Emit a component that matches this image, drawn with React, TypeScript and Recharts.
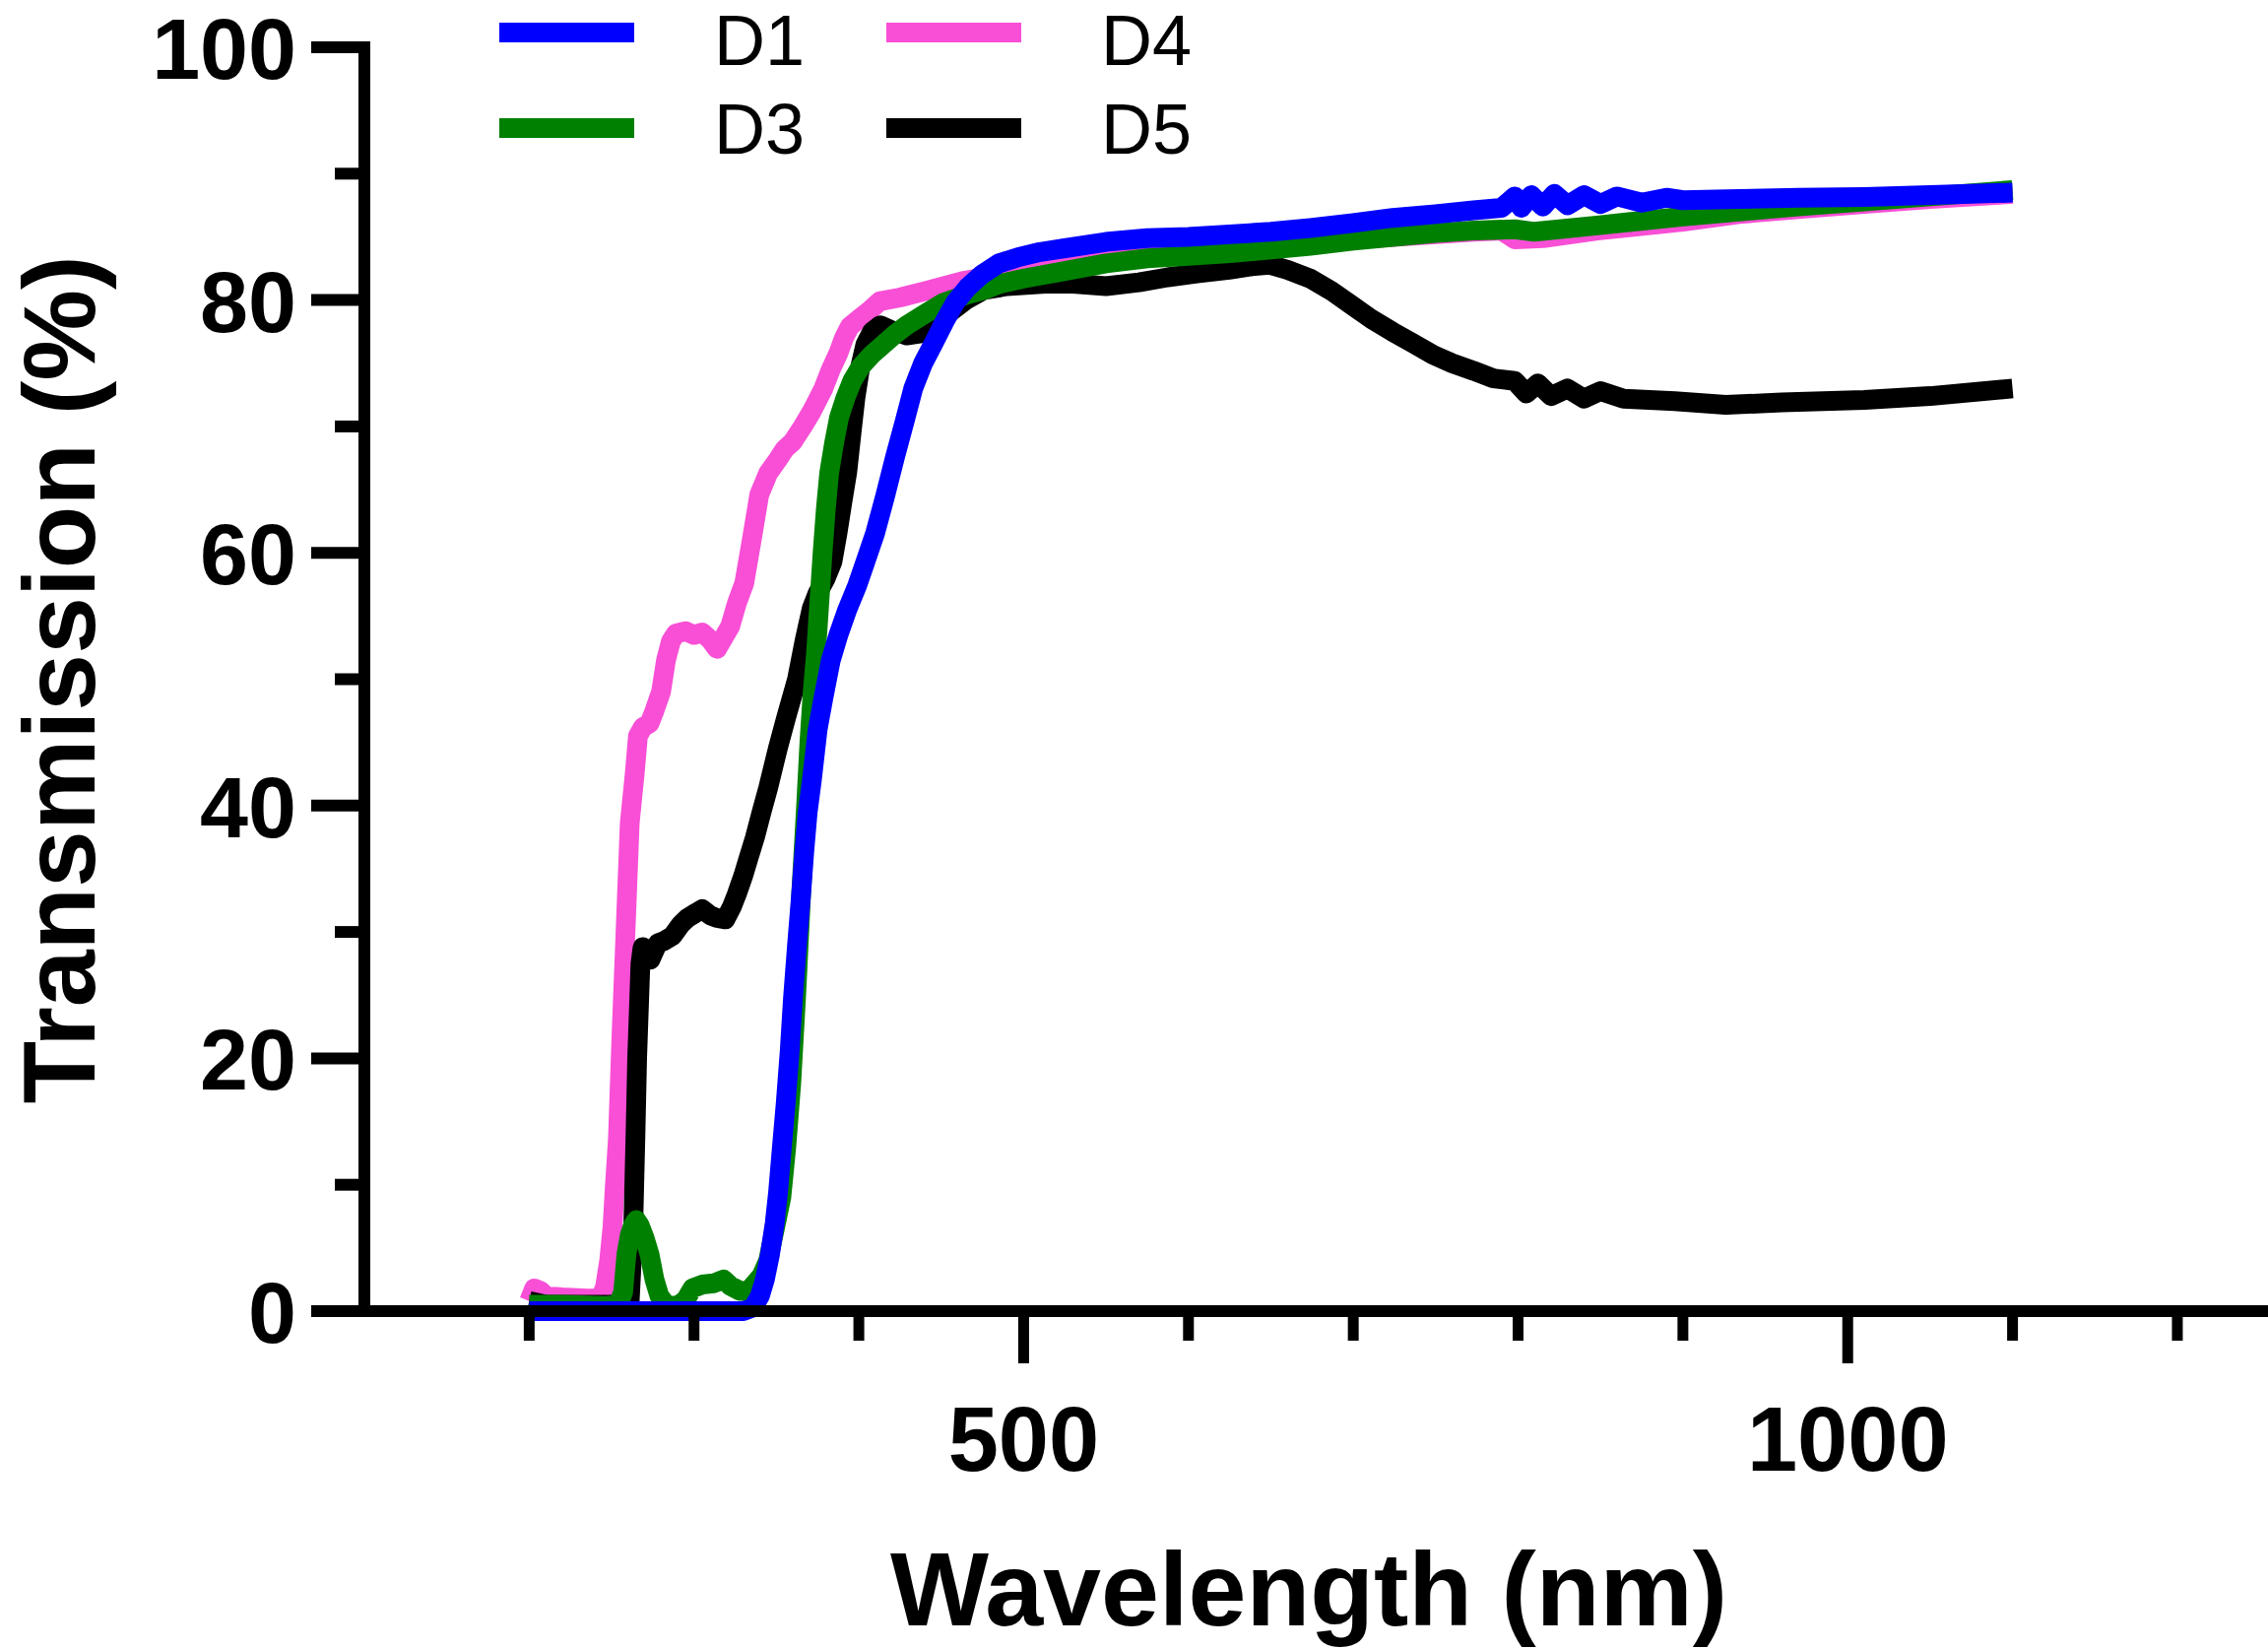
import { LineChart, Line, XAxis, YAxis, Legend } from "recharts";

// wavelength (nm) / transmission (%)
const d1Wl = [200, 250, 300, 330, 336, 340, 343, 346, 349, 351, 353, 355.6, 358, 360, 362.5, 365, 367, 369, 371.5, 375, 378.5, 383, 387.6, 393, 399, 404, 410, 416, 422, 428, 433, 439, 445, 452, 458.5, 466, 474.5, 485, 497, 510, 525, 550, 575, 600, 625, 650, 674, 700, 724, 750, 773, 790, 798, 802, 808, 815, 822, 830, 840, 850, 860, 875, 890, 900, 934, 970, 1010, 1050, 1100];
const d1T = [0, 0, 0, 0, 0.3, 1.2, 2.5, 4.4, 7, 9.4, 12.5, 16.4, 20.5, 24.7, 29, 33, 36.5, 39.5, 42, 46, 48.5, 51.5, 53.5, 55.5, 57.4, 59.3, 61.6, 64.5, 67.6, 70.5, 73, 75, 76.5, 78.3, 79.8, 81, 82, 82.9, 83.4, 83.8, 84.1, 84.6, 84.9, 85, 85.2, 85.4, 85.7, 86.1, 86.5, 86.8, 87.1, 87.3, 88.2, 87.3, 88.3, 87.4, 88.4, 87.5, 88.3, 87.6, 88.2, 87.7, 88.1, 87.9, 88, 88.1, 88.15, 88.3, 88.5];

const d3Wl = [200, 220, 245, 254, 257, 259, 261, 263, 265, 267, 270, 273, 276, 279, 283, 290, 295, 299, 305, 312, 318, 322, 328, 333, 337, 341, 345, 349, 353, 356, 359, 362, 365, 368, 370, 372, 374, 376, 378, 380, 382, 385, 388, 392, 396, 401, 408, 415, 422, 429, 440, 451.5, 465, 476, 486, 500, 525, 550, 575, 600, 625, 650, 674, 700, 724, 750, 773, 798, 810, 848, 870, 900, 934, 970, 1010, 1050, 1100];
const d3T = [0.5, 0.5, 0.4, 0.5, 1.5, 4.5, 6, 6.8, 7.2, 6.8, 5.8, 4.5, 2.5, 1.2, 0.5, 0.4, 0.9, 1.8, 2.1, 2.2, 2.5, 2, 1.6, 1.6, 2.2, 2.8, 4, 6.5, 9, 13, 18, 25, 33, 40, 45, 49, 52, 56, 60, 63.5, 66.3, 68.7, 70.7, 72.3, 73.6, 74.7, 75.7, 76.5, 77.3, 78, 78.9, 79.8, 80.4, 80.8, 81.3, 81.7, 82.3, 82.9, 83.3, 83.5, 83.7, 84, 84.3, 84.7, 85, 85.3, 85.5, 85.6, 85.4, 85.9, 86.2, 86.6, 87, 87.4, 87.8, 88.2, 88.7];

const d4Wl = [200, 203, 207, 210, 220, 235, 243, 246, 248.5, 250.5, 252, 253.8, 256, 258.5, 261, 264, 266, 269, 273, 276, 280, 283, 286, 289, 295, 300, 305, 310, 314, 318, 322, 326, 330.5, 335, 339.6, 345, 351, 355, 360, 366, 371.5, 378.5, 383, 387.6, 391, 394.5, 400, 405.9, 412.7, 425, 440, 463, 476, 500, 525, 550, 575, 600, 625, 650, 674, 700, 724, 750, 773, 790, 798, 815, 848, 870, 900, 934, 970, 1010, 1050, 1100];
const d4T = [0.8, 1.8, 1.6, 1.2, 1.1, 1, 1, 1.9, 4, 6.6, 10, 13.6, 21.9, 30.2, 38.6, 42.5, 45.5, 46.2, 46.5, 47.5, 49, 51.5, 53, 53.6, 53.8, 53.5, 53.7, 53.1, 52.4, 53.3, 54.2, 56, 57.6, 61, 64.6, 66.3, 67.4, 68.2, 68.8, 70, 71.2, 73, 74.5, 75.8, 77, 77.9, 78.5, 79.1, 79.9, 80.2, 80.7, 81.5, 81.8, 82.4, 82.8, 83.2, 83.6, 83.8, 84, 84.2, 84.5, 84.8, 85, 85.2, 85.4, 85.5, 84.8, 84.9, 85.5, 85.8, 86.2, 86.8, 87.2, 87.6, 88, 88.4];

const d5Wl = [200, 210, 230, 255, 261, 263, 264.5, 265.5, 267.5, 268.8, 271, 273.5, 278, 282, 287, 292, 296, 301, 305, 310, 314, 319, 323, 326, 330, 333, 337, 341, 345, 351, 356, 362.5, 367, 371.4, 375, 380, 384, 387, 390, 393, 396, 398, 401, 404, 408, 413, 420, 429, 440, 448, 455, 465, 476, 490, 513, 530, 550, 570, 587.5, 605, 624.7, 640, 649, 660, 674, 687, 699, 711, 723.7, 736, 748, 760, 773, 785, 798, 805, 812, 820, 830, 840, 850, 864, 895, 926, 960, 1010, 1050, 1100];
const d5T = [0.8, 0.5, 0.5, 0.5, 0.8, 6, 14, 20, 27.5, 28.8, 28.2, 27.8, 29.1, 29.3, 29.7, 30.6, 31.1, 31.5, 31.8, 31.3, 31.1, 31, 32, 33, 34.5, 35.8, 37.5, 39.5, 41.4, 44.6, 47, 50, 53, 55.6, 56.8, 58, 59.3, 61.5, 64, 66.4, 70, 72.3, 74.8, 76.5, 77.5, 78, 77.6, 77.2, 77.4, 78.2, 79, 80, 80.8, 81.1, 81.3, 81.3, 81.1, 81.4, 81.8, 82.1, 82.4, 82.7, 82.8, 82.4, 81.7, 80.7, 79.6, 78.5, 77.5, 76.6, 75.7, 75, 74.4, 73.8, 73.6, 72.6, 73.4, 72.4, 73, 72.2, 72.8, 72.2, 72, 71.7, 71.9, 72.1, 72.4, 73];

const yTicks = [0, 10, 20, 30, 40, 50, 60, 70, 80, 90, 100];
const xTicks = [200, 300, 400, 500, 600, 700, 800, 900, 1000, 1100, 1200];

const legendNames = ["D1", "D3", "D4", "D5"];
const colors: Record<string, string> = {
  D1: "#0000FF",
  D3: "#008000",
  D4: "#F84FD6",
  D5: "#000000",
};

const toRows = (wl: number[], t: number[]) => wl.map((x, i) => ({ x, y: t[i] }));

// drawn bottom to top: pink, black, green, blue
const series = [
  { name: "D4", data: toRows(d4Wl, d4T) },
  { name: "D5", data: toRows(d5Wl, d5T) },
  { name: "D3", data: toRows(d3Wl, d3T) },
  { name: "D1", data: toRows(d1Wl, d1T) },
];

const FONT = "'Liberation Sans', Arial, Helvetica, sans-serif";

const YTick = ({ x, y, payload }: any) => {
  const major = payload.value % 20 === 0;
  return (
    <g>
      <line x1={x - (major ? 54 : 30)} x2={x} y1={y} y2={y} stroke="#000" strokeWidth={12} />
      {major && (
        <text x={x - 69} y={y + 32} textAnchor="end" fontSize={88} fontWeight="bold" fontFamily={FONT} fill="#000">
          {payload.value}
        </text>
      )}
    </g>
  );
};

const XTick = ({ x, y, payload }: any) => {
  const major = payload.value % 500 === 0;
  return (
    <g>
      <line x1={x} x2={x} y1={y} y2={y + (major ? 53 : 30)} stroke="#000" strokeWidth={11} />
      {major && (
        <text x={x} y={y + 162} textAnchor="middle" fontSize={92} fontWeight="bold" fontFamily={FONT} fill="#000">
          {payload.value}
        </text>
      )}
    </g>
  );
};

const renderLegend = () => (
  <svg width={1300} height={180}>
    {legendNames.map((name, i) => {
      const col = Math.floor(i / 2);
      const row = i % 2;
      const lx = 507 + col * 393;
      const cy = 33 + row * 97;
      return (
        <g key={name}>
          <line x1={lx} x2={lx + 137} y1={cy} y2={cy} stroke={colors[name]} strokeWidth={20} />
          <text x={lx + 218} y={row === 0 ? 66 : 156} fontSize={72} fontFamily={FONT} fill="#000">
            {name}
          </text>
        </g>
      );
    })}
  </svg>
);

export default function App() {
  return (
    <div style={{ position: "absolute", left: 0, top: 0, background: "#fff" }}>
      <LineChart width={2303} height={1674} margin={{ top: 48, right: 0, left: 70, bottom: 0 }}>
        <XAxis
          type="number"
          dataKey="x"
          domain={[100, 1255]}
          ticks={xTicks}
          tick={<XTick />}
          tickLine={false}
          tickSize={0}
          tickMargin={0}
          height={343}
          axisLine={{ stroke: "#000", strokeWidth: 12, strokeLinecap: "square" }}
          allowDuplicatedCategory={false}
          label={() => (
            <text x={1329} y={1650} textAnchor="middle" fontSize={106} fontWeight="bold" fontFamily={FONT} fill="#000">
              Wavelength (nm)
            </text>
          )}
        />
        <YAxis
          type="number"
          dataKey="y"
          domain={[0, 100]}
          ticks={yTicks}
          tick={<YTick />}
          tickLine={false}
          tickSize={0}
          tickMargin={0}
          width={300}
          axisLine={{ stroke: "#000", strokeWidth: 12, strokeLinecap: "square" }}
          label={() => (
            <text
              x={96}
              y={690}
              transform="rotate(-90, 96, 690)"
              textAnchor="middle"
              fontSize={104}
              fontWeight="bold"
              fontFamily={FONT}
              fill="#000"
            >
              Transmission (%)
            </text>
          )}
        />
        <Legend verticalAlign="middle" wrapperStyle={{ top: 0, left: 0, width: 1300, height: 180 }} content={renderLegend} />
        {series.map((s) => (
          <Line
            key={s.name}
            data={s.data}
            dataKey="y"
            name={s.name}
            type="linear"
            stroke={colors[s.name]}
            strokeWidth={20}
            strokeLinejoin="round"
            dot={false}
            activeDot={false}
            isAnimationActive={false}
          />
        ))}
      </LineChart>
    </div>
  );
}
